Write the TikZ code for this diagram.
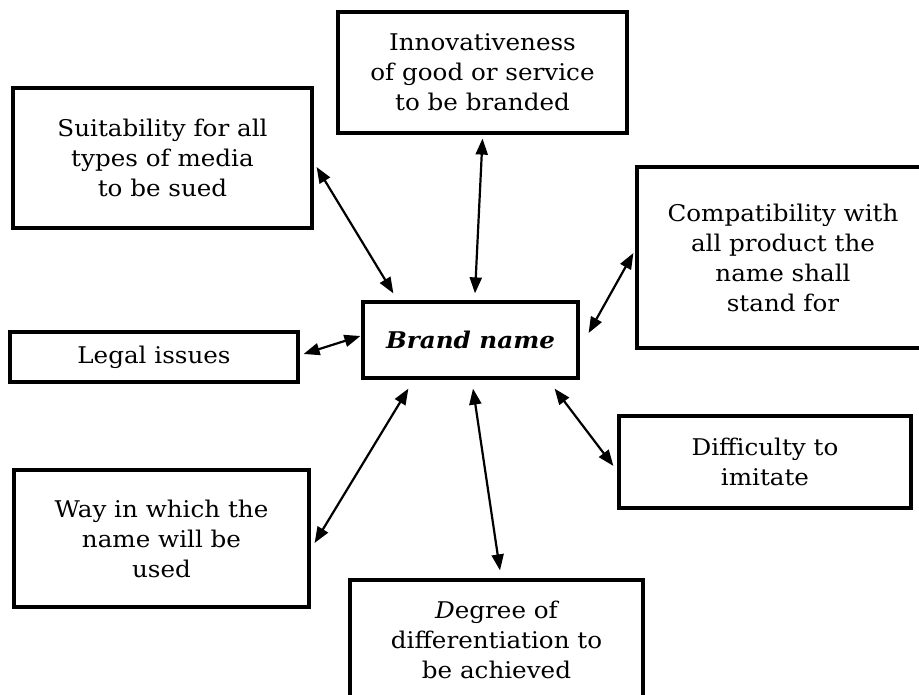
\documentclass[tikz,border=0pt]{standalone}
\usepackage{fontspec}
\setmainfont{DejaVu Serif}[FakeStretch=1.07]
\usetikzlibrary{arrows.meta}
\begin{document}
\begin{tikzpicture}[x=1pt,y=-1pt,
  box/.style={draw,line width=3.2pt,rectangle,align=center,inner sep=0pt,
    font=\fontsize{23}{30}\selectfont},
  arr/.style={line width=2.2pt,{Triangle[length=16pt,width=12pt]}-{Triangle[length=16pt,width=12pt]}}]
\useasboundingbox (0,0) rectangle (919,695);
\node[box,minimum width=289pt,minimum height=121pt] (innov) at (482.5,72.5)
  {Innovativeness\\of good or service\\to be branded};
\node[box,minimum width=299pt,minimum height=140pt] (suit) at (162.5,158)
  {Suitability for all\\types of media\\to be sued};
\node[box,minimum width=292pt,minimum height=181pt] (compat) at (783,257.5)
  {Compatibility with\\all product the\\name shall\\stand for};
\node[box,minimum width=215pt,minimum height=76pt,font=\fontsize{23}{30}\selectfont\bfseries\itshape] (brand) at (470.5,340)
  {Brand name};
\node[box,minimum width=288pt,minimum height=50pt] (legal) at (154,357)
  {Legal issues};
\node[box,minimum width=295pt,minimum height=137pt] (way) at (161.5,538.5)
  {Way in which the\\name will be\\used};
\node[box,minimum width=293pt,minimum height=120pt] (degree) at (496.5,640)
  {\textit{D}egree of\\differentiation to\\be achieved};
\node[box,minimum width=292pt,minimum height=92pt] (diff) at (765,462)
  {Difficulty to\\imitate};
\draw[arr] ([shift={(0,4)}]innov.south) -- ([shift={(4.5,-7)}]brand.north);
\draw[arr] ([shift={(3,9)}]suit.east) -- ([shift={(32,-7)}]brand.north west);
\draw[arr] ([shift={(-2,-4.5)}]compat.west) -- ([shift={(9,-7)}]brand.east);
\draw[arr] ([shift={(4,-3)}]legal.east) -- ([shift={(-1,-4)}]brand.west);
\draw[arr] ([shift={(4,4.5)}]way.east) -- ([shift={(47,9)}]brand.south west);
\draw[arr] ([shift={(3.5,-8)}]degree.north) -- ([shift={(2.5,9)}]brand.south);
\draw[arr] ([shift={(-4,4)}]diff.west) -- ([shift={(-25,9)}]brand.south east);
\end{tikzpicture}
\end{document}
